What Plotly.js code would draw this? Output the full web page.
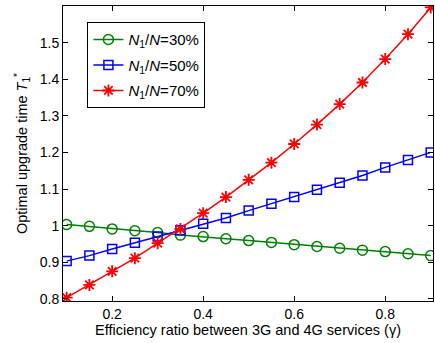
<!DOCTYPE html>
<html>
<head>
<meta charset="utf-8">
<script src="https://cdn.plot.ly/plotly-3.0.1.min.js"></script>
<style>html,body{margin:0;padding:0;background:#fff}#chart{width:435px;height:343px}</style>
</head>
<body>
<div id="chart"></div>
<script>
const gamma = [0.1,0.15,0.2,0.25,0.3,0.35,0.4,0.45,0.5,0.55,0.6,0.65,0.7,0.75,0.8,0.85,0.9];
const n30 = [1.003,0.998,0.991,0.986,0.981,0.974,0.970,0.964,0.959,0.954,0.948,0.943,0.938,0.933,0.929,0.923,0.918];
const n50 = [0.903,0.918,0.936,0.953,0.970,0.987,1.005,1.021,1.041,1.060,1.078,1.098,1.117,1.137,1.159,1.179,1.200];
const n70 = [0.803,0.838,0.875,0.911,0.952,0.991,1.034,1.078,1.125,1.172,1.223,1.276,1.332,1.391,1.455,1.523,1.596];
const names = ['<i>N</i><sub>1</sub>/<i>N</i>=30%','<i>N</i><sub>1</sub>/<i>N</i>=50%','<i>N</i><sub>1</sub>/<i>N</i>=70%'];
const xTicks = [0.2,0.4,0.6,0.8];
const xTickText = ['0.2','0.4','0.6','0.8'];
const yTicks = [0.8,0.9,1.0,1.1,1.2,1.3,1.4,1.5];
const yTickText = ['0.8','0.9','1','1.1','1.2','1.3','1.4','1.5'];

const traces = [
  {x: gamma, y: n30, name: names[0], legendgroup: 'a', mode: 'lines+markers', line: {color: '#008000', width: 1.5},
   marker: {symbol: 'circle-open', size: 10, color: '#008000', line: {width: 1.5}}},
  {x: gamma, y: n50, name: names[1], legendgroup: 'b', mode: 'lines+markers', line: {color: '#0000ff', width: 1.5},
   marker: {symbol: 'square-open', size: 9, color: '#0000ff', line: {width: 1.5}}},
  {x: gamma, y: n70, name: names[2], legendgroup: 'c', mode: 'lines+markers', line: {color: '#ff0000', width: 1.5},
   marker: {symbol: 'asterisk-open', size: 10, color: '#ff0000', line: {width: 1.8, color: '#ff0000'}}}
];
const font = {family: 'Liberation Sans, Arial, sans-serif', size: 14, color: '#000'};
const layout = {
  width: 435, height: 343,
  margin: {l: 63, r: 2, t: 6, b: 42},
  paper_bgcolor: '#fff', plot_bgcolor: '#fff',
  font: font,
  showlegend: true,
  legend: {x: 0.066, y: 0.945, xanchor: 'left', yanchor: 'top', bgcolor: '#fff', tracegroupgap: 3,
           traceorder: 'grouped',
           bordercolor: '#000', borderwidth: 1, font: {family: font.family, size: 15, color: '#000'}},
  xaxis: {range: [0.092, 0.905], tickvals: xTicks, ticktext: xTickText, ticks: 'inside', ticklen: 5,
          tickcolor: '#000', showline: true, linecolor: '#000', linewidth: 1, mirror: 'ticks',
          showgrid: false, zeroline: false, tickfont: {size: 14},
          title: {text: 'Efficiency ratio between 3G and 4G services (γ)', font: {size: 14.5}, standoff: 3}},
  yaxis: {range: [0.794, 1.6], tickvals: yTicks, ticktext: yTickText, ticks: 'inside', ticklen: 5,
          tickcolor: '#000', showline: true, linecolor: '#000', linewidth: 1, mirror: 'ticks',
          showgrid: false, zeroline: false, tickfont: {size: 14},
          title: {text: 'Optimal upgrade time <i>T</i><sub>1</sub><sup>*</sup>', font: {size: 14.5}, standoff: 8}}
};
Plotly.newPlot('chart', traces, layout, {displayModeBar: false, staticPlot: true});
</script>
</body>
</html>
